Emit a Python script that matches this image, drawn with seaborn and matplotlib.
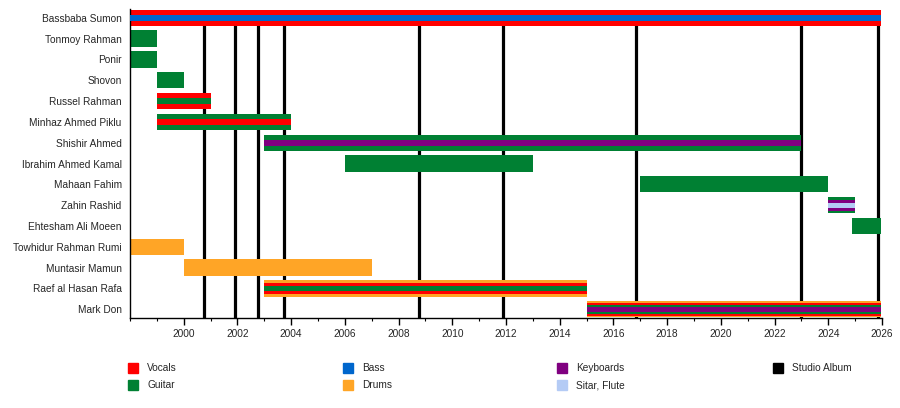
import matplotlib
matplotlib.use("Agg")
import matplotlib.pyplot as plt
from matplotlib.patches import Rectangle
import seaborn as sns

# ---- data ----
members = ["Bassbaba Sumon", "Tonmoy Rahman", "Ponir", "Shovon", "Russel Rahman",
           "Minhaz Ahmed Piklu", "Shishir Ahmed", "Ibrahim Ahmed Kamal", "Mahaan Fahim",
           "Zahin Rashid", "Ehtesham Ali Moeen", "Towhidur Rahman Rumi", "Muntasir Mamun",
           "Raef al Hasan Rafa", "Mark Don"]
starts = [1998, 1998, 1998, 1999, 1999, 1999, 2003, 2006, 2017.0, 2024.0, 2024.9,
          1998, 2000, 2003, 2015]
ends = [2025.95, 1999, 1999, 2000, 2001, 2004, 2023, 2013, 2024.0, 2025.0, 2025.95,
        2000, 2007, 2015, 2025.95]
roles = [["Vocals", "Bass"], ["Guitar"], ["Guitar"], ["Guitar"], ["Vocals", "Guitar"],
         ["Guitar", "Vocals"], ["Guitar", "Keyboards"], ["Guitar"], ["Guitar"],
         ["Guitar", "Keyboards", "Sitar, Flute"], ["Guitar"], ["Drums"], ["Drums"],
         ["Drums", "Vocals", "Guitar"], ["Drums", "Vocals", "Guitar", "Keyboards"]]
studio_albums = [2000.76, 2001.91, 2002.77, 2003.74, 2008.76, 2011.89, 2016.85,
                 2022.99, 2025.86]
legend_items = ["Vocals", "Guitar", "Bass", "Drums", "Keyboards", "Sitar, Flute",
                "Studio Album"]
year_ticks = list(range(2000, 2027, 2))

colors = {"Vocals": "#FF0000", "Guitar": "#008033", "Bass": "#0066CC",
          "Drums": "#FFA526", "Keyboards": "#800080", "Sitar, Flute": "#B4CBF5",
          "Studio Album": "#000000"}

layer_heights = {1: [0.78], 2: [0.78, 0.3], 3: [0.78, 0.52, 0.24],
                 4: [0.78, 0.62, 0.44, 0.26]}

sns.set_theme(style="white")
plt.rcParams["font.family"] = ["Liberation Sans", "DejaVu Sans"]

fig = plt.figure(figsize=(9, 4.08), dpi=100)
ax = fig.add_axes([130 / 900, (408 - 318) / 408, 752 / 900, 309 / 408])

# studio album lines (behind bars)
ax.vlines(studio_albums, 0, 14.5, colors=colors["Studio Album"], linewidth=2.3, zorder=1)

for i, (s, e, rl) in enumerate(zip(starts, ends, roles)):
    hs = layer_heights[len(rl)]
    for j, (r, h) in enumerate(zip(rl, hs)):
        ax.barh(i, e - s, left=s, height=h, color=colors[r], linewidth=0, zorder=2 + j)

ax.set_xlim(1998, 2026)
ax.set_ylim(14.42, -0.42)
ax.set_yticks(range(len(members)))
ax.set_yticklabels(members, fontsize=7.3)
ax.tick_params(axis="y", length=0, pad=6)
ax.set_xticks(year_ticks)
ax.set_xticklabels([str(y) for y in year_ticks], fontsize=7.3)
ax.set_xticks(range(1998, 2027), minor=True)
ax.tick_params(axis="x", which="major", direction="out", length=5, width=1,
               color="black", pad=3, bottom=True)
ax.tick_params(axis="x", which="minor", direction="out", length=2.5, width=0.8,
               color="black", bottom=True)
sns.despine(ax=ax, top=True, right=True)
for sp in ["left", "bottom"]:
    ax.spines[sp].set_color("black")
    ax.spines[sp].set_linewidth(1.0)

# legend (manual grid, 4 columns x 2 rows)
col_x = [128, 343, 557, 773]
row_y = [368, 385]
for k, name in enumerate(legend_items):
    c, r = divmod(k, 2)
    x0, yc = col_x[c], row_y[r]
    fig.patches.append(Rectangle((x0 / 900, (408 - yc - 5) / 408), 10 / 900, 10 / 408,
                                 transform=fig.transFigure, color=colors[name]))
    fig.text((x0 + 19) / 900, (408 - yc) / 408, name, fontsize=7.3, va="center",
             ha="left")

fig.savefig("out.png", dpi=100)
